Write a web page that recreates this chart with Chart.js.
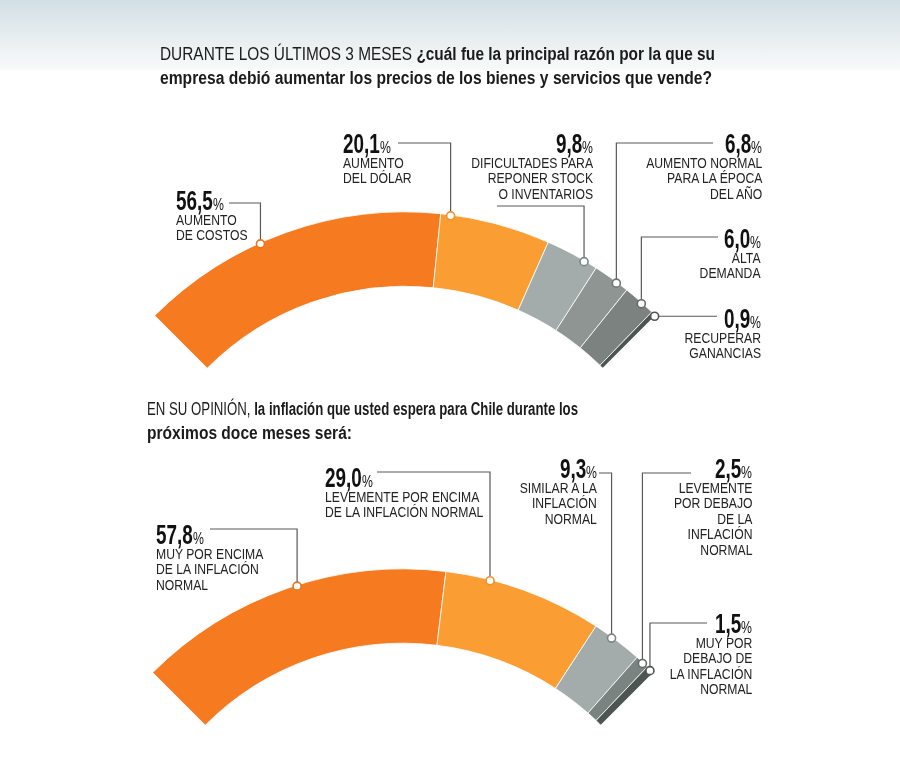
<!DOCTYPE html>
<html lang="es">
<head>
<meta charset="utf-8">
<title>Encuesta: precios e inflación</title>
<script src="https://cdn.jsdelivr.net/npm/chart.js@4.4.1/dist/chart.umd.min.js"></script>
<style>
    html, body { margin: 0; padding: 0; }
    body {
        width: 900px; height: 776px; position: relative; overflow: hidden; background: #fff;
        font-family: "Liberation Sans Narrow", "Arial Narrow", "Liberation Sans", sans-serif;
        color: #1d1d1b;
    }
    .franja { position: absolute; left: 0; top: 0; width: 900px; height: 70px;
        background: linear-gradient(#d3dfe5, #f8fafa); }
    canvas { position: absolute; left: 0; top: 0; }
    .titulo { position: absolute; font-size: 18px; line-height: 24px; white-space: nowrap;
        transform-origin: 0 0; color: #1b1b1b; }
    .titulo .suave { font-weight: 400; }
    .titulo b { font-weight: 700; }
    .rotulo { position: absolute; white-space: nowrap; z-index: 2; }
    .rotulo.der { text-align: right; }
    .cifra { font-size: 27px; font-weight: 700; line-height: 20px; color: #111; }
    .cifra .n, .cifra .p { display: inline-block; transform-origin: 0 50%; }
    .cifra .p { font-size: 17px; font-weight: 400; line-height: 0; }
    .texto { margin-top: 2px; font-size: 14.5px; line-height: 15.5px; color: #222;
        transform-origin: 0 0; }
    .der .texto { transform-origin: 100% 0; }
</style>
</head>
<body>
<div class="franja"></div>
<canvas id="graficoPrecios" width="900" height="776"></canvas>
<canvas id="graficoInflacion" width="900" height="776"></canvas>

<div class="titulo" data-ancho="555" style="left:160px; top:42px;"><span class="suave">DURANTE LOS ÚLTIMOS 3 MESES </span><b>¿cuál fue la principal razón por la que su</b></div>
<div class="titulo" data-ancho="552" style="left:160px; top:66px;"><b>empresa debió aumentar los precios de los bienes y servicios que vende?</b></div>
<div class="titulo" data-ancho="431" style="left:147px; top:397px;"><span class="suave">EN SU OPINIÓN, </span><b>la inflación que usted espera para Chile durante los</b></div>
<div class="titulo" data-ancho="205" style="left:147px; top:421px;"><b>próximos doce meses será:</b></div>

<script>
// --- Datos ---
const preciosCategorias = [
    ['AUMENTO', 'DE COSTOS'],
    ['AUMENTO', 'DEL DÓLAR'],
    ['DIFICULTADES PARA', 'REPONER STOCK', 'O INVENTARIOS'],
    ['AUMENTO NORMAL', 'PARA LA ÉPOCA', 'DEL AÑO'],
    ['ALTA', 'DEMANDA'],
    ['RECUPERAR', 'GANANCIAS']
];
const preciosValores = [56.5, 20.1, 9.8, 6.8, 6.0, 0.9];

const inflacionCategorias = [
    ['MUY POR ENCIMA', 'DE LA INFLACIÓN', 'NORMAL'],
    ['LEVEMENTE POR ENCIMA', 'DE LA INFLACIÓN NORMAL'],
    ['SIMILAR A LA', 'INFLACIÓN', 'NORMAL'],
    ['LEVEMENTE', 'POR DEBAJO', 'DE LA', 'INFLACIÓN', 'NORMAL'],
    ['MUY POR', 'DEBAJO DE', 'LA INFLACIÓN', 'NORMAL']
];
const inflacionValores = [57.8, 29.0, 9.3, 2.5, 1.5];

// --- Estilo ---
const preciosColores = ['#f57a20', '#fa9d33', '#a3acaa', '#8e9592', '#7b827f', '#4d5552'];
const inflacionColores = ['#f57a20', '#fa9d33', '#a3acaa', '#7b8380', '#4d5552'];
const preciosAros = ['#e8741f', '#f0922c', '#7d8583', '#6f7774', '#646b68', '#4d5552'];
const inflacionAros = ['#e8741f', '#f0922c', '#7d8583', '#646b68', '#4d5552'];

// Rótulos: alineación, borde x, línea base de la cifra, remate del conector (lx, ly), posición del punto en el tramo (f)
const preciosRotulos = [
    { lado: 'izq', x: 176, base: 210, lx: 229, ly: 203, f: 0.41 },
    { lado: 'izq', x: 343, base: 153, lx: 398, ly: 143, f: 0.09 },
    { lado: 'der', x: 593, base: 153, lx: 497, ly: 206, f: 0.75 },
    { lado: 'der', x: 762, base: 153, lx: 713, ly: 143, f: 0.67 },
    { lado: 'der', x: 761, base: 248, lx: 718, ly: 237, f: 0.60 },
    { lado: 'der', x: 761, base: 328, lx: 717, ly: null, f: 1.0 }
];
const inflacionRotulos = [
    { lado: 'izq', x: 156, base: 544, lx: 210, ly: 529, f: 0.53 },
    { lado: 'izq', x: 325, base: 487, lx: 377, ly: 472, f: 0.28 },
    { lado: 'der', x: 597, base: 478, lx: 599, ly: 473, f: 0.38 },
    { lado: 'der', x: 752, base: 478, lx: 691, ly: 473, f: 0.58 },
    { lado: 'der', x: 752, base: 633, lx: 707, ly: 623, f: 0.55 }
];

/**
 * Dibuja los conectores y los puntos blancos sobre el borde exterior del arco.
 */
const conectores = {
    id: 'conectores',
    afterDatasetsDraw(chart, args, opts) {
        const ctx = chart.ctx;
        chart.getDatasetMeta(0).data.forEach((arc, i) => {
            const r = opts.rotulos[i];
            const { x, y, startAngle, endAngle, outerRadius } =
                arc.getProps(['x', 'y', 'startAngle', 'endAngle', 'outerRadius'], true);
            const a = startAngle + r.f * (endAngle - startAngle);
            const px = x + Math.cos(a) * (outerRadius - 1);
            const py = y + Math.sin(a) * (outerRadius - 1);
            const ly = r.ly == null ? py : r.ly;

            ctx.save();
            ctx.strokeStyle = '#595959';
            ctx.lineWidth = 1.2;
            ctx.beginPath();
            ctx.moveTo(r.lx, ly);
            ctx.lineTo(px, ly);
            ctx.lineTo(px, py);
            ctx.stroke();

            ctx.beginPath();
            ctx.arc(px, py, 4, 0, Math.PI * 2);
            ctx.fillStyle = '#fff';
            ctx.fill();
            ctx.strokeStyle = opts.aros[i];
            ctx.lineWidth = 1.6;
            ctx.stroke();
            ctx.restore();
        });
    }
};

function crearArco(id, categorias, valores, colores, relleno, rotulos, aros) {
    return new Chart(document.getElementById(id), {
        type: 'doughnut',
        data: {
            labels: categorias,
            datasets: [{
                data: valores,
                backgroundColor: colores,
                borderColor: 'rgba(255,255,255,0.8)',
                borderWidth: 1
            }]
        },
        options: {
            responsive: false,
            animation: false,
            events: [],
            rotation: -45,
            circumference: 90,
            radius: 354,
            cutout: '79%',
            layout: { padding: relleno },
            plugins: {
                legend: { display: false },
                tooltip: { enabled: false },
                conectores: { rotulos, aros }
            }
        },
        plugins: [conectores]
    });
}

function formato(v) {
    return v.toFixed(1).replace('.', ',');
}

function crearRotulos(categorias, valores, rotulos) {
    rotulos.forEach((r, i) => {
        const div = document.createElement('div');
        div.className = 'rotulo' + (r.lado === 'der' ? ' der' : '');
        div.style.top = (r.base - 19.3) + 'px';
        if (r.lado === 'der') {
            div.style.right = (900 - r.x) + 'px';
        } else {
            div.style.left = r.x + 'px';
        }
        div.innerHTML = `
            <div class="cifra"><span class="n">${formato(valores[i])}</span><span class="p">%</span></div>
            <div class="texto">${categorias[i].join('<br>')}</div>
        `;
        document.body.appendChild(div);
    });
}

// Centro del arco superior ~ (405, 566), inferior ~ (403, 923)
crearArco('graficoPrecios', preciosCategorias, preciosValores, preciosColores,
    { left: 0, right: 90, top: 0, bottom: 196 }, preciosRotulos, preciosAros);
crearArco('graficoInflacion', inflacionCategorias, inflacionValores, inflacionColores,
    { left: 0, right: 94, top: 518, bottom: 0 }, inflacionRotulos, inflacionAros);

crearRotulos(preciosCategorias, preciosValores, preciosRotulos);
crearRotulos(inflacionCategorias, inflacionValores, inflacionRotulos);

// Letra condensada: se comprime en horizontal y se ajusta la caja
function condensar(el, k) {
    const w = el.getBoundingClientRect().width;
    el.style.width = (w * k) + 'px';
    el.style.transform = 'scaleX(' + k + ')';
}
document.querySelectorAll('.cifra .n').forEach(el => condensar(el, 0.70));
document.querySelectorAll('.cifra .p').forEach(el => condensar(el, 0.72));
document.querySelectorAll('.texto').forEach(el => {
    el.style.transform = 'scaleX(0.84)';
});
document.querySelectorAll('.titulo').forEach(el => {
    const w = el.getBoundingClientRect().width;
    el.style.transform = 'scaleX(' + (Number(el.dataset.ancho) / w) + ')';
});
</script>
</body>
</html>
